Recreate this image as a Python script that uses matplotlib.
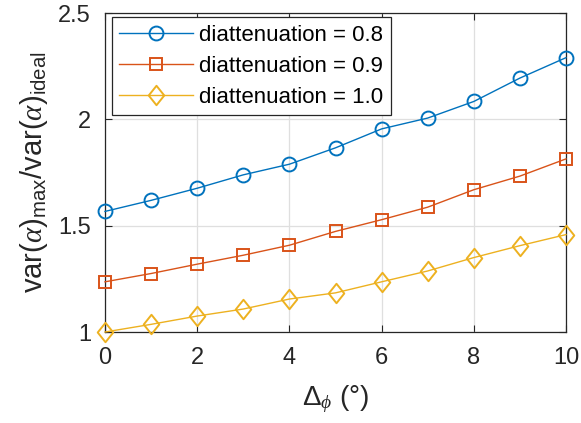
import matplotlib
matplotlib.use("Agg")
import matplotlib.pyplot as plt
from matplotlib.path import Path

plt.rcParams['font.family'] = ['Liberation Sans', 'DejaVu Sans']
plt.rcParams['mathtext.fontset'] = 'custom'
plt.rcParams['mathtext.rm'] = 'Liberation Sans'
plt.rcParams['mathtext.it'] = 'Liberation Serif:italic'
plt.rcParams['mathtext.bf'] = 'Liberation Sans:bold'

delta_phi = [0, 1, 2, 3, 4, 5, 6, 7, 8, 9, 10]
ratio_d08 = [1.567, 1.619, 1.676, 1.739, 1.789, 1.866, 1.955, 2.006, 2.084, 2.194, 2.29]
ratio_d09 = [1.236, 1.275, 1.319, 1.361, 1.408, 1.473, 1.528, 1.587, 1.669, 1.733, 1.814]
ratio_d10 = [1.0, 1.036, 1.075, 1.108, 1.155, 1.184, 1.236, 1.287, 1.35, 1.406, 1.458]
labels = ['diattenuation = 0.8', 'diattenuation = 0.9', 'diattenuation = 1.0']
x_ticks = [0, 2, 4, 6, 8, 10]
y_ticks = [1, 1.5, 2, 2.5]
y_tick_labels = ['1', '1.5', '2', '2.5']

colors = ['#0072BD', '#D95319', '#EDB120']
diamond = Path([(0, 1), (0.8, 0), (0, -1), (-0.8, 0), (0, 1)],
               [Path.MOVETO, Path.LINETO, Path.LINETO, Path.LINETO, Path.CLOSEPOLY])

fig = plt.figure(figsize=(5.81, 4.23), dpi=100)
ax = fig.add_axes([105/581, 1 - 332/423, (566-105)/581, (332-13)/423])

series = [ratio_d08, ratio_d09, ratio_d10]
markers = ['o', 's', diamond]
msizes = [10, 9, 14]
for ys, c, m, ms, lab in zip(series, colors, markers, msizes, labels):
    ax.plot(delta_phi, ys, color=c, lw=1.0, marker=m, markersize=ms,
            markerfacecolor='none', markeredgecolor=c, markeredgewidth=1.4,
            label=lab, clip_on=False, zorder=3)

ax.set_xlim(0, 10)
ax.set_ylim(1, 2.5)
ax.set_xticks(x_ticks)
ax.set_yticks(y_ticks)
ax.set_yticklabels(y_tick_labels)
ax.grid(True, color='#dfdfdf', lw=0.9)
ax.set_axisbelow(True)
ax.tick_params(direction='in', length=5, width=0.8, top=True, right=True,
               labelsize=17, colors='#262626')
ax.tick_params(axis='x', pad=11)
ax.tick_params(axis='y', pad=10)
for s in ax.spines.values():
    s.set_color('#262626')
    s.set_linewidth(0.9)

ax.set_xlabel(r'$\Delta_{\phi}$ (°)', fontsize=20, color='#262626', labelpad=10)
ax.set_ylabel(r'var$(\alpha)_{\mathrm{max}}$/var$(\alpha)_{\mathrm{ideal}}$',
              fontsize=21, color='#262626', labelpad=6)

leg = ax.legend(loc='upper left', bbox_to_anchor=(0.0145, 0.988), fontsize=16,
                frameon=True, fancybox=False, edgecolor='#262626',
                handlelength=3.3, borderpad=0.35, labelspacing=0.45,
                handletextpad=0.3, borderaxespad=0.0)
leg.get_frame().set_linewidth(0.9)
leg.get_frame().set_alpha(1)

fig.savefig('out.png', dpi=100)
